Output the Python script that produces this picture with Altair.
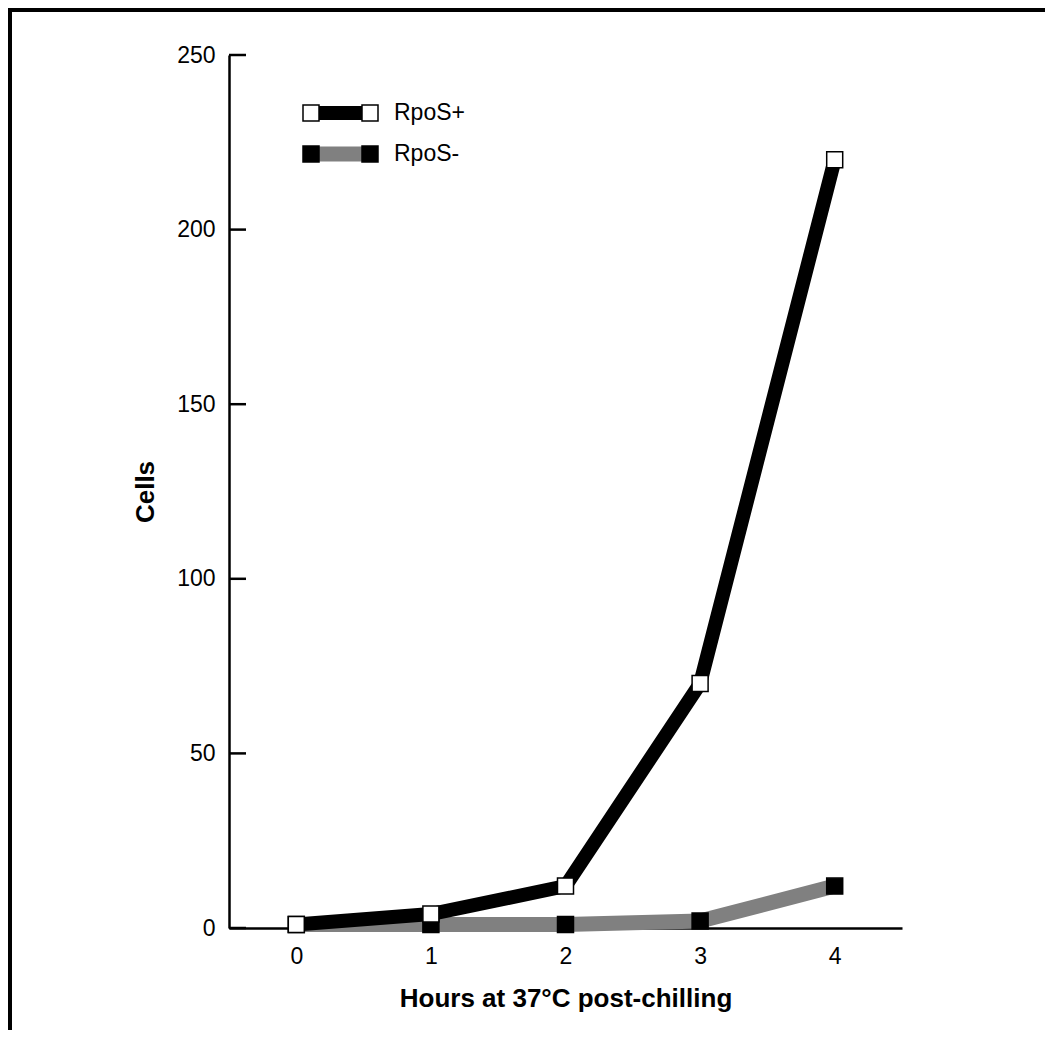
import altair as alt
import pandas as pd

# ---- data ----
hours = [0, 1, 2, 3, 4]
rpos_plus = [1, 4, 12, 70, 220]
rpos_minus = [1, 1, 1, 2, 12]
series_names = ["RpoS+", "RpoS-"]
x_ticks = [0, 1, 2, 3, 4]
y_ticks = [0, 50, 100, 150, 200, 250]

W, H = 673, 873
PAD = {"left": 221, "top": 47, "right": 143, "bottom": 102}
FONT = "Liberation Sans"

df_plus = pd.DataFrame({"hours": hours, "cells": rpos_plus})
df_minus = pd.DataFrame({"hours": hours, "cells": rpos_minus})
df_ticks = pd.DataFrame({"cells": y_ticks})

x_scale = alt.Scale(domain=[-0.5, 4.5], nice=False, zero=False)
y_scale = alt.Scale(domain=[0, 250], nice=False, zero=True)

x_axis = alt.Axis(values=x_ticks, title="Hours at 37°C post-chilling", ticks=False,
                  grid=False, labelPadding=17, titlePadding=17, format="d")
y_axis = alt.Axis(values=y_ticks, title="Cells", ticks=False, grid=False,
                  labelPadding=14, titlePadding=18)

X = alt.X("hours:Q", scale=x_scale, axis=x_axis)
Y = alt.Y("cells:Q", scale=y_scale, axis=y_axis)

minus_line = alt.Chart(df_minus).mark_line(
    color="#808080", strokeWidth=15, strokeJoin="miter", strokeCap="butt"
).encode(x=X, y=Y)
minus_pts = alt.Chart(df_minus).mark_square(
    size=256, fill="black", stroke="black", strokeWidth=1.5, opacity=1
).encode(x=X, y=Y)
plus_line = alt.Chart(df_plus).mark_line(
    color="black", strokeWidth=14, strokeJoin="miter", strokeCap="butt"
).encode(x=X, y=Y)
plus_pts = alt.Chart(df_plus).mark_square(
    size=256, fill="white", stroke="black", strokeWidth=1.5, opacity=1
).encode(x=X, y=Y)

# inward y ticks
ticks = alt.Chart(df_ticks).mark_rule(color="black", strokeWidth=2.5).encode(
    y=Y, x=alt.value(0), x2=alt.value(17)
)

# ---- legend ----
def legend_entry(label, ypix, bar_color, sq_fill, bar_w):
    d = pd.DataFrame({"label": [label]})
    bar = alt.Chart(d).mark_rule(color=bar_color, strokeWidth=bar_w).encode(
        x=alt.value(82), x2=alt.value(141), y=alt.value(ypix))
    sq1 = alt.Chart(d).mark_square(size=256, fill=sq_fill, stroke="black",
                                   strokeWidth=1.5, opacity=1).encode(
        x=alt.value(82), y=alt.value(ypix))
    sq2 = alt.Chart(d).mark_square(size=256, fill=sq_fill, stroke="black",
                                   strokeWidth=1.5, opacity=1).encode(
        x=alt.value(141), y=alt.value(ypix))
    txt = alt.Chart(d).mark_text(align="left", baseline="middle", fontSize=23,
                                 font=FONT, color="black").encode(
        text="label:N", x=alt.value(165), y=alt.value(ypix))
    return [bar, sq1, sq2, txt]

leg = legend_entry(series_names[0], 58, "black", "white", 14) + \
      legend_entry(series_names[1], 99, "#808080", "black", 15)

# ---- frame lines (top and left) ----
one = pd.DataFrame({"a": [0]})
top_line = alt.Chart(one).mark_rule(color="black", strokeWidth=4).encode(
    x=alt.value(-PAD["left"]), x2=alt.value(W + PAD["right"]), y=alt.value(-45))
left_line = alt.Chart(one).mark_rule(color="black", strokeWidth=4).encode(
    x=alt.value(-PAD["left"] + 2), y=alt.value(-PAD["top"]), y2=alt.value(H + PAD["bottom"]))

chart = alt.layer(
    minus_line, minus_pts, plus_line, plus_pts, ticks, *leg, top_line, left_line
).properties(
    width=W, height=H,
    autosize=alt.AutoSizeParams(type="none"),
    padding=PAD,
).configure_view(stroke=None).configure_axis(
    domainColor="black", domainWidth=2.5,
    labelFont=FONT, labelFontSize=23, labelColor="black",
    titleFont=FONT, titleFontSize=26, titleFontWeight="bold", titleColor="black",
)

chart.save("out.html", embed_options={"renderer": "svg", "actions": False})
